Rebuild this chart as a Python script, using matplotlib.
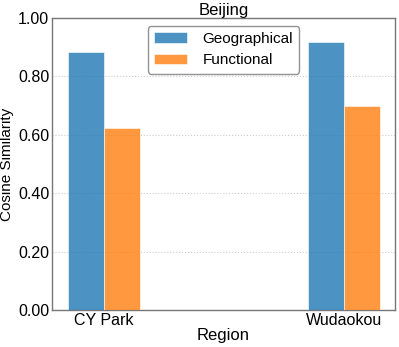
import matplotlib
matplotlib.use("Agg")
import matplotlib.pyplot as plt
import numpy as np

plt.rcParams['font.family'] = ['Liberation Sans', 'DejaVu Sans']

regions = ["CY Park", "Wudaokou"]
geographical = [0.885, 0.917]
functional = [0.624, 0.700]
yticks = [0.0, 0.2, 0.4, 0.6, 0.8, 1.0]

fig = plt.figure(figsize=(3.99, 3.47), dpi=100)
ax = fig.add_axes([52/399, 1-310/347, (395-52)/399, (310-18)/347])

x = np.arange(len(regions))
w = 0.15
ax.bar(x - w/2, geographical, w, color='tab:blue', alpha=0.8, edgecolor='white', linewidth=0.5, label='Geographical', zorder=3)
ax.bar(x + w/2, functional, w, color='tab:orange', alpha=0.8, edgecolor='white', linewidth=0.5, label='Functional', zorder=3)

ax.set_xlim(-0.217, 1.2125)
ax.set_ylim(0, 1.0)
ax.set_xticks(x)
ax.set_xticklabels(regions, fontsize=11.5)
ax.set_yticks(yticks)
ax.set_yticklabels([f"{v:.2f}" for v in yticks], fontsize=11.5)
ax.tick_params(axis='both', length=0, pad=2)
ax.yaxis.grid(True, linestyle=':', color='#cccccc', linewidth=0.8, zorder=0)
for s in ax.spines.values():
    s.set_color('#777777')
    s.set_linewidth(1.0)
ax.set_xlabel('Region', fontsize=12, labelpad=0)
ax.set_ylabel('Cosine Similarity', fontsize=11, labelpad=3)
ax.set_title('Beijing', fontsize=12, pad=1)
leg = ax.legend(loc='upper center', fontsize=11, frameon=True, fancybox=True, edgecolor='#777777',
                borderaxespad=0.5, handlelength=2.2, handletextpad=1.0)

fig.savefig('out.png', dpi=100)
